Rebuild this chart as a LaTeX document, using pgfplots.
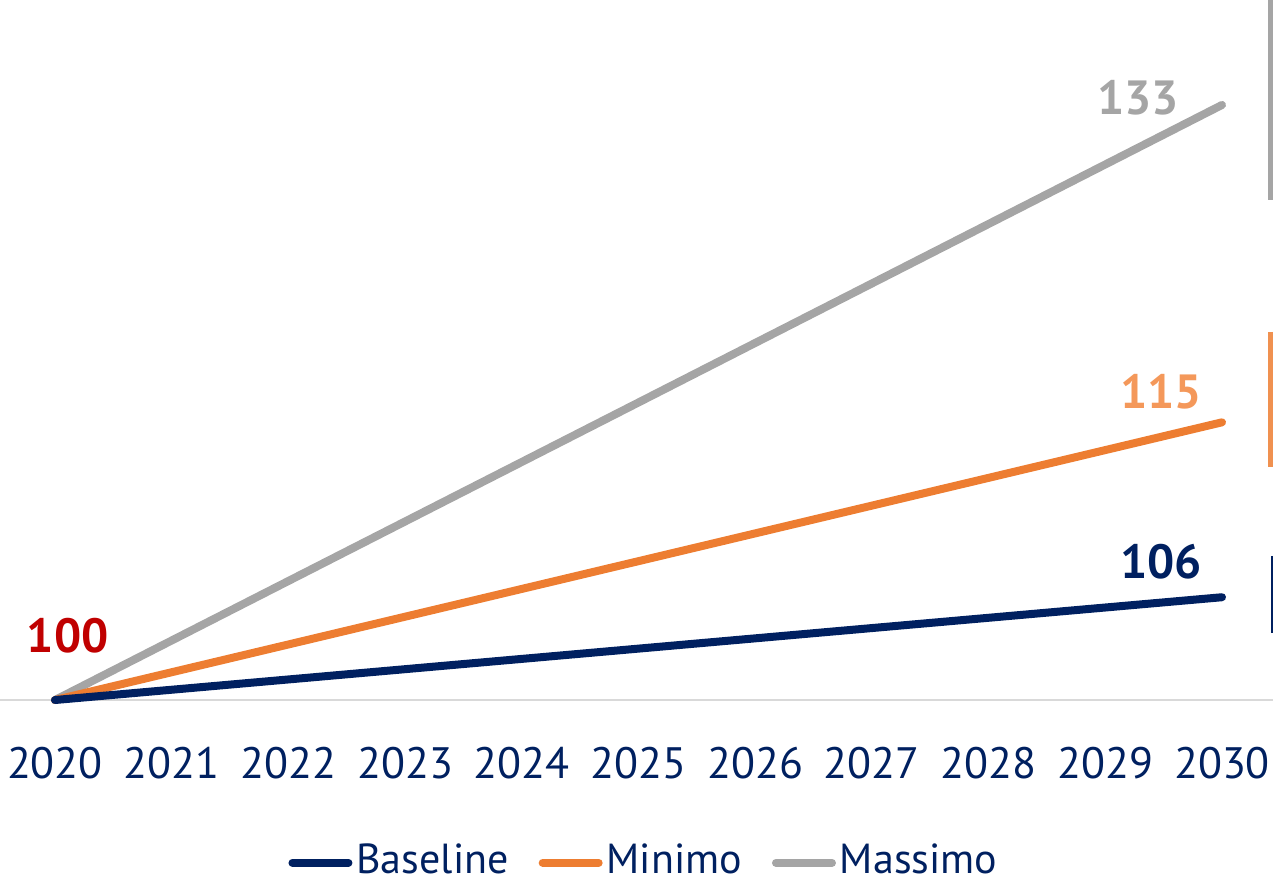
\documentclass[border=0pt]{standalone}
\usepackage{pgfplots}
\pgfplotsset{compat=1.18}
\usepackage{fontspec}
\setmainfont{PT Sans}

\definecolor{navy}{HTML}{002060}
\definecolor{orng}{HTML}{ED7D31}
\definecolor{orlab}{HTML}{F4985A}
\definecolor{gry}{HTML}{A5A5A5}
\definecolor{redlab}{HTML}{C00000}
\definecolor{axgray}{HTML}{D9D9D9}

\begin{document}
\begin{tikzpicture}
\begin{axis}[
  name=ax,
  scale only axis,
  width=636.5pt, height=350pt,
  xmin=2019.529, xmax=2030.437,
  ymin=100, ymax=138.82,
  axis y line=none,
  axis x line*=bottom,
  x axis line style={draw=axgray, line width=1pt},
  xtick={2020,2021,2022,2023,2024,2025,2026,2027,2028,2029,2030},
  xticklabels={2020,2021,2022,2023,2024,2025,2026,2027,2028,2029,2030},
  major tick length=0pt,
  xticklabel style={anchor=base, yshift=-39pt, inner sep=0pt, text=navy,
    font=\fontsize{22}{26}\selectfont},
  ytick=\empty,
  clip=false,
  legend columns=3,
  reverse legend,
  legend style={draw=none, fill=none, at={(0.505,0)}, anchor=south,
    yshift=-87pt, font=\fontsize{21}{25}\selectfont, text=navy,
    nodes={inner sep=0pt, text depth=0pt},
    /tikz/every odd column/.append style={column sep=2pt},
    /tikz/every even column/.append style={column sep=15pt},
    cells={anchor=west}, inner sep=0pt},
  legend image code/.code={\draw[#1, line cap=round] (1pt,-2pt) -- (29pt,-2pt);},
  every axis plot/.append style={line width=4pt, line cap=round, line join=round},
]
% Massimo
\addplot[gry] coordinates {
  (2020,100) (2021,103.3) (2022,106.6) (2023,109.9) (2024,113.2) (2025,116.5)
  (2026,119.8) (2027,123.1) (2028,126.4) (2029,129.7) (2030,133.0)
};
\addlegendentry{Massimo}
% Minimo
\addplot[orng] coordinates {
  (2020,100) (2021,101.54) (2022,103.08) (2023,104.62) (2024,106.16) (2025,107.70)
  (2026,109.24) (2027,110.78) (2028,112.32) (2029,113.86) (2030,115.4)
};
\addlegendentry{Minimo}
% Baseline
\addplot[navy] coordinates {
  (2020,100) (2021,100.57) (2022,101.14) (2023,101.71) (2024,102.28) (2025,102.85)
  (2026,103.42) (2027,103.99) (2028,104.56) (2029,105.13) (2030,105.7)
};
\addlegendentry{Baseline}

\node[text=gry, font=\bfseries\fontsize{24}{28}\selectfont] at (axis cs:2029.28,133.4) {133};
\node[text=orlab, font=\bfseries\fontsize{24}{28}\selectfont] at (axis cs:2029.48,117.1) {115};
\node[text=navy, font=\bfseries\fontsize{24}{28}\selectfont] at (axis cs:2029.48,107.65) {106};
\node[text=redlab, font=\bfseries\fontsize{24}{28}\selectfont] at (axis cs:2020.11,103.55) {100};

\draw[gry, line width=2.3pt] (rel axis cs:0.9982,1) -- (rel axis cs:0.9982,0.714);
\draw[orng!85!white, line width=2.3pt] (rel axis cs:0.9982,0.526) -- (rel axis cs:0.9982,0.333);
\draw[navy, line width=1.15pt] (rel axis cs:0.9991,0.206) -- (rel axis cs:0.9991,0.096);
\end{axis}
\pgfresetboundingbox
\path (ax.north west) rectangle ([yshift=-90.5pt]ax.south east);
\end{tikzpicture}
\end{document}
